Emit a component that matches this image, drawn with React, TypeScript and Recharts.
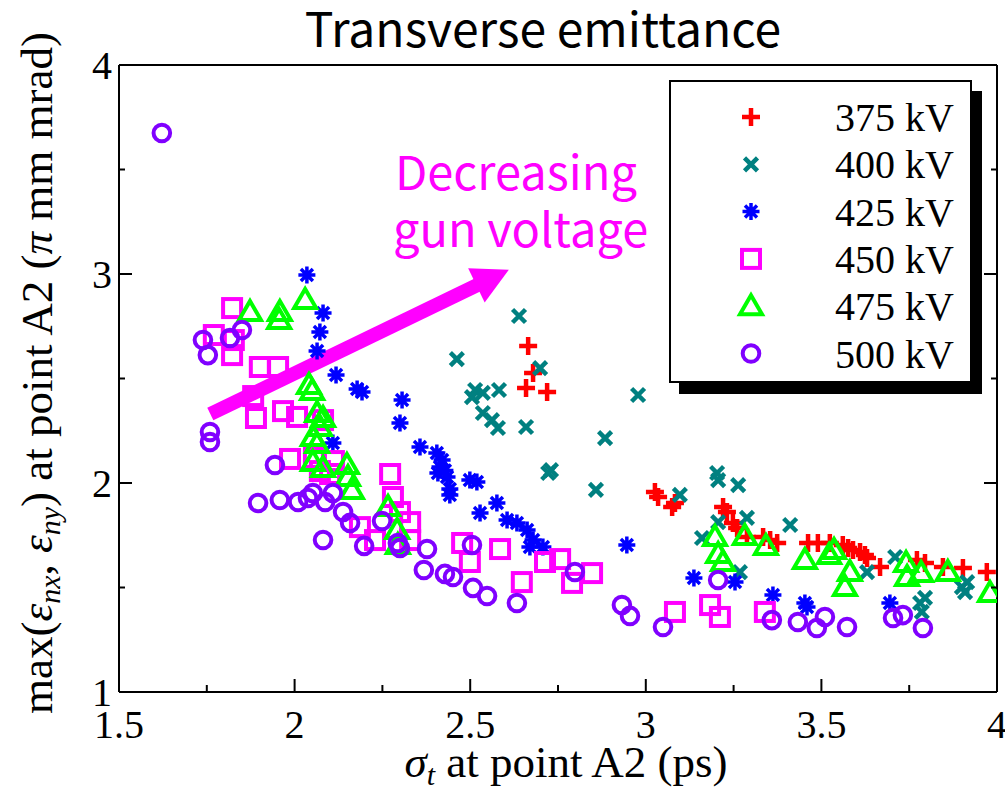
import React from 'react';
import { ScatterChart, Scatter, XAxis, YAxis, ReferenceLine, Legend } from 'recharts';

const SERIES_NAMES = ['375 kV', '400 kV', '425 kV', '450 kV', '475 kV', '500 kV'];
const SERIES_COLORS = ['#ff0000', '#008080', '#0000ff', '#ff00ff', '#00ff00', '#8000ff'];

const kv375: [number, number][] = [
  [2.665, 2.656], [2.679, 2.526], [2.659, 2.455], [2.719, 2.435],
  [3.026, 1.957], [3.035, 1.933], [3.083, 1.904], [3.075, 1.885],
  [3.220, 1.885], [3.231, 1.861], [3.248, 1.809], [3.260, 1.785], [3.288, 1.742], [3.334, 1.742],
  [3.354, 1.727], [3.374, 1.713], [3.462, 1.713], [3.490, 1.713], [3.524, 1.713], [3.561, 1.703],
  [3.576, 1.689], [3.590, 1.679], [3.610, 1.670], [3.624, 1.656], [3.630, 1.641], [3.667, 1.598],
  [3.772, 1.632], [3.795, 1.617], [3.846, 1.598], [3.903, 1.593], [3.971, 1.574],
];
const kv400: [number, number][] = [
  [2.639, 2.799], [2.462, 2.593], [2.699, 2.550], [2.505, 2.411], [2.514, 2.445], [2.536, 2.431],
  [2.582, 2.445], [2.536, 2.335], [2.562, 2.301], [2.579, 2.263], [2.659, 2.268], [2.730, 2.062],
  [2.722, 2.048], [2.978, 2.421], [2.884, 2.215], [2.858, 1.967], [3.097, 1.943], [3.203, 2.048],
  [3.206, 2.014], [3.263, 1.990], [3.288, 1.833], [3.206, 1.813], [3.160, 1.737], [3.411, 1.799],
  [3.268, 1.574], [3.710, 1.646], [3.630, 1.574], [3.781, 1.426], [3.786, 1.383], [3.795, 1.450],
  [3.900, 1.502], [3.909, 1.478], [3.915, 1.526],
];
const kv425: [number, number][] = [
  [2.035, 2.995], [2.081, 2.813], [2.072, 2.722], [2.064, 2.632], [2.118, 2.517], [2.178, 2.450],
  [2.192, 2.435], [2.306, 2.397], [2.300, 2.287], [2.357, 2.172], [2.405, 2.144], [2.414, 2.077],
  [2.408, 2.048], [2.434, 2.029], [2.442, 1.971], [2.499, 2.014], [2.519, 2.005], [2.442, 1.943],
  [2.420, 2.110], [2.428, 2.060], [2.528, 1.856], [2.576, 1.904], [2.605, 1.823], [2.633, 1.809],
  [2.662, 1.775], [2.679, 1.727], [2.707, 1.694], [2.670, 1.694], [2.946, 1.703], [3.137, 1.545],
  [3.254, 1.526], [3.362, 1.464], [3.453, 1.426], [3.459, 1.407], [3.695, 1.426], [2.109, 2.191],
];
const kv450: [number, number][] = [
  [1.822, 2.837], [1.770, 2.708], [1.827, 2.684], [1.822, 2.612], [1.901, 2.555], [1.953, 2.555],
  [1.882, 2.416], [1.890, 2.311], [1.967, 2.344], [2.007, 2.316], [2.081, 2.301], [1.987, 2.115],
  [2.055, 2.120], [2.112, 2.105], [2.072, 2.057], [2.101, 2.043], [2.272, 2.043], [2.280, 1.933],
  [2.300, 1.861], [2.329, 1.813], [2.329, 1.727], [2.186, 1.789], [2.229, 1.727], [2.477, 1.713],
  [2.499, 1.622], [2.585, 1.684], [2.647, 1.526], [2.713, 1.622], [2.756, 1.636], [2.790, 1.522],
  [2.847, 1.569], [3.083, 1.383], [3.183, 1.416], [3.211, 1.359], [3.339, 1.383],
];
const kv475: [number, number][] = [
  [1.873, 2.818], [1.958, 2.818], [1.956, 2.780], [2.030, 2.876], [2.041, 2.469], [2.050, 2.440],
  [2.064, 2.335], [2.081, 2.311], [2.072, 2.268], [2.052, 2.220], [2.064, 2.187], [2.052, 2.100],
  [2.081, 2.072], [2.149, 2.086], [2.152, 2.029], [2.163, 1.967], [2.266, 1.885], [2.292, 1.775],
  [2.294, 1.703], [3.197, 1.742], [3.206, 1.660], [3.220, 1.622], [3.282, 1.746], [3.342, 1.699],
  [3.453, 1.632], [3.522, 1.656], [3.536, 1.679], [3.581, 1.574], [3.567, 1.502], [3.741, 1.617],
  [3.744, 1.550], [3.784, 1.569], [3.860, 1.574], [3.980, 1.474],
];
const kv500: [number, number][] = [
  [1.622, 3.675], [1.739, 2.684], [1.753, 2.612], [1.816, 2.694], [1.850, 2.732], [1.759, 2.244],
  [1.759, 2.196], [1.944, 2.086], [1.896, 1.904], [1.958, 1.919], [2.010, 1.909], [2.038, 1.928],
  [2.052, 1.952], [2.087, 1.909], [2.109, 1.952], [2.138, 1.861], [2.158, 1.809], [2.081, 1.727],
  [2.198, 1.699], [2.249, 1.818], [2.294, 1.713], [2.300, 1.689], [2.377, 1.684], [2.368, 1.584],
  [2.428, 1.565], [2.451, 1.550], [2.508, 1.498], [2.548, 1.459], [2.505, 1.703], [2.633, 1.426],
  [2.798, 1.574], [2.932, 1.416], [2.955, 1.364], [3.049, 1.311], [3.206, 1.536], [3.359, 1.344],
  [3.433, 1.335], [3.487, 1.306], [3.510, 1.359], [3.573, 1.311], [3.704, 1.354], [3.732, 1.368],
  [3.789, 1.306],
];

const X_TICKS = [1.5, 1.75, 2, 2.25, 2.5, 2.75, 3, 3.25, 3.5, 3.75, 4];
const X_MAJOR = [1.5, 2, 2.5, 3, 3.5, 4];
const X_LABELS = ['1.5', '2', '2.5', '3', '3.5', '4'];
const Y_TICKS = [1, 1.5, 2, 2.5, 3, 3.5, 4];
const Y_MAJOR = [1, 2, 3, 4];
const Y_LABELS = ['1', '2', '3', '4'];

const ARROW_FROM = { x: 1.76, y: 2.33 };
const ARROW_TO = { x: 2.61, y: 3.02 };

const SERIF = "'Liberation Serif', 'Times New Roman', serif";
const SANS = "'Noto Sans CJK JP', 'Noto Sans', sans-serif";

const toPts = (arr: [number, number][]) => arr.map(([x, y]) => ({ x, y }));
const SERIES = [kv375, kv400, kv425, kv450, kv475, kv500];

const Marker = ({ kind, cx, cy }: { kind: number; cx: number; cy: number }) => {
  const c = SERIES_COLORS[kind];
  if (kind === 0) {
    const s = 9;
    return <path d={`M${cx - s},${cy}H${cx + s}M${cx},${cy - s}V${cy + s}`} stroke={c} strokeWidth={4.5} fill="none" />;
  }
  if (kind === 1) {
    const s = 6.5;
    return <path d={`M${cx - s},${cy - s}L${cx + s},${cy + s}M${cx - s},${cy + s}L${cx + s},${cy - s}`} stroke={c} strokeWidth={4.5} fill="none" />;
  }
  if (kind === 2) {
    const s = 8.5;
    const d = 6;
    return (
      <path
        d={`M${cx - s},${cy}H${cx + s}M${cx},${cy - s}V${cy + s}M${cx - d},${cy - d}L${cx + d},${cy + d}M${cx - d},${cy + d}L${cx + d},${cy - d}`}
        stroke={c}
        strokeWidth={3.5}
        fill="none"
      />
    );
  }
  if (kind === 3) {
    return <rect x={cx - 9} y={cy - 9} width={18} height={18} stroke={c} strokeWidth={4} fill="none" />;
  }
  if (kind === 4) {
    return <polygon points={`${cx},${cy - 11} ${cx + 11},${cy + 8} ${cx - 11},${cy + 8}`} stroke={c} strokeWidth={4} fill="none" strokeLinejoin="miter" />;
  }
  return <circle cx={cx} cy={cy} r={8.3} stroke={c} strokeWidth={4} fill="none" />;
};

const XTick = (props: any) => {
  const { x, y, payload, side } = props;
  const i = X_MAJOR.indexOf(payload.value);
  const len = i >= 0 ? 13 : 7;
  const dir = side === 'bottom' ? -1 : 1;
  return (
    <g>
      <line x1={x} x2={x} y1={y} y2={y + dir * len} stroke="#000" strokeWidth={2} />
      {side === 'bottom' && i >= 0 && (
        <text x={x} y={y + 46} textAnchor="middle" fontSize={40} fontFamily={SERIF} fill="#000">
          {X_LABELS[i]}
        </text>
      )}
    </g>
  );
};

const YTick = (props: any) => {
  const { x, y, payload, side } = props;
  const i = Y_MAJOR.indexOf(payload.value);
  const len = i >= 0 ? 13 : 6;
  const dir = side === 'left' ? 1 : -1;
  return (
    <g>
      <line x1={x} x2={x + dir * len} y1={y} y2={y} stroke="#000" strokeWidth={2} />
      {side === 'left' && i >= 0 && (
        <text x={x - 7} y={y + 14} textAnchor="end" fontSize={40} fontFamily={SERIF} fill="#000">
          {Y_LABELS[i]}
        </text>
      )}
    </g>
  );
};

const ArrowShape = (p: any) => {
  const { x1, y1, x2, y2 } = p;
  const dx = x2 - x1;
  const dy = y2 - y1;
  const L = Math.hypot(dx, dy) || 1;
  const ux = dx / L;
  const uy = dy / L;
  const headLen = 36;
  const halfW = 19;
  const bx = x2 - ux * headLen;
  const by = y2 - uy * headLen;
  const px = -uy;
  const py = ux;
  return (
    <g>
      <line x1={x1} y1={y1} x2={bx + ux * 2} y2={by + uy * 2} stroke="#ff00ff" strokeWidth={14} />
      <polygon points={`${x2},${y2} ${bx + px * halfW},${by + py * halfW} ${bx - px * halfW},${by - py * halfW}`} fill="#ff00ff" />
    </g>
  );
};

const LegendBox = () => (
  <div
    style={{
      position: 'relative',
      width: 303,
      height: 303,
      boxSizing: 'border-box',
      border: '2px solid #000',
      background: '#fff',
      boxShadow: '10px 11px 0 0 #000',
    }}
  >
    <svg width={299} height={299} style={{ position: 'absolute', left: 0, top: 0 }}>
      {SERIES_NAMES.map((name, i) => {
        const cy = 35 + i * 47.3;
        return (
          <g key={name}>
            <Marker kind={i} cx={80} cy={cy} />
            <text x={164} y={cy + 14} fontSize={40} fontFamily={SERIF} fill="#000">
              {name}
            </text>
          </g>
        );
      })}
    </svg>
  </div>
);

export default function App() {
  return (
    <div style={{ position: 'absolute', left: 0, top: 0, width: 1005, height: 788, background: '#fff' }}>
      <ScatterChart width={1005} height={788} margin={{ top: 64, right: 7, bottom: 95, left: 118 }}>
        <XAxis
          type="number"
          dataKey="x"
          domain={[1.5, 4]}
          ticks={X_TICKS}
          interval={0}
          tickSize={0}
          tickMargin={0}
          tickLine={false}
          height={1}
          allowDataOverflow
          axisLine={{ stroke: '#000', strokeWidth: 2 }}
          tick={(p: any) => <XTick {...p} side="bottom" />}
        />
        <XAxis
          xAxisId="top"
          orientation="top"
          type="number"
          domain={[1.5, 4]}
          ticks={X_TICKS}
          interval={0}
          tickSize={0}
          tickMargin={0}
          tickLine={false}
          height={1}
          allowDataOverflow
          axisLine={{ stroke: '#000', strokeWidth: 2 }}
          tick={(p: any) => <XTick {...p} side="top" />}
        />
        <YAxis
          type="number"
          dataKey="y"
          domain={[1, 4]}
          ticks={Y_TICKS}
          interval={0}
          tickSize={0}
          tickMargin={0}
          tickLine={false}
          width={1}
          allowDataOverflow
          axisLine={{ stroke: '#000', strokeWidth: 2 }}
          tick={(p: any) => <YTick {...p} side="left" />}
        />
        <YAxis
          yAxisId="right"
          orientation="right"
          type="number"
          domain={[1, 4]}
          ticks={Y_TICKS}
          interval={0}
          tickSize={0}
          tickMargin={0}
          tickLine={false}
          width={1}
          allowDataOverflow
          axisLine={{ stroke: '#000', strokeWidth: 2 }}
          tick={(p: any) => <YTick {...p} side="right" />}
        />
        {SERIES.map((arr, i) => (
          <Scatter
            key={SERIES_NAMES[i]}
            name={SERIES_NAMES[i]}
            data={toPts(arr)}
            fill={SERIES_COLORS[i]}
            isAnimationActive={false}
            shape={(p: any) => <Marker kind={i} cx={p.cx} cy={p.cy} />}
          />
        ))}
        <ReferenceLine segment={[ARROW_FROM, ARROW_TO]} ifOverflow="visible" shape={ArrowShape} />
        <Legend
          layout="horizontal"
          verticalAlign="middle"
          align="center"
          content={() => <LegendBox />}
          wrapperStyle={{ left: 669, top: 80, width: 303, height: 303 }}
        />
      </ScatterChart>
      <svg width={1005} height={788} style={{ position: 'absolute', left: 0, top: 0, pointerEvents: 'none' }}>
        <text x={543} y={47} textAnchor="middle" fontSize={48} fontFamily={SANS} fill="#000">
          Transverse emittance
        </text>
        <text x={395} y={190} fontSize={47} fontFamily={SANS} fill="#ff00ff">
          Decreasing
        </text>
        <text x={393} y={247} fontSize={47} fontFamily={SANS} fill="#ff00ff">
          gun voltage
        </text>
        <text x={566} y={777} textAnchor="middle" fontSize={45} fontFamily={SERIF} fill="#000">
          <tspan fontStyle="italic">σ</tspan>
          <tspan fontStyle="italic" fontSize={30} dy={8}>t</tspan>
          <tspan dy={-8}> at point A2 (ps)</tspan>
        </text>
        <text
          transform="translate(52,373) rotate(-90)"
          textAnchor="middle"
          fontSize={45}
          fontFamily={SERIF}
          fill="#000"
        >
          <tspan>max(</tspan>
          <tspan fontStyle="italic">ε</tspan>
          <tspan fontStyle="italic" fontSize={30} dy={8}>nx</tspan>
          <tspan dy={-8}>, </tspan>
          <tspan fontStyle="italic">ε</tspan>
          <tspan fontStyle="italic" fontSize={30} dy={8}>ny</tspan>
          <tspan dy={-8}>) at point A2 (</tspan>
          <tspan fontStyle="italic">π</tspan>
          <tspan> mm mrad)</tspan>
        </text>
      </svg>
    </div>
  );
}
